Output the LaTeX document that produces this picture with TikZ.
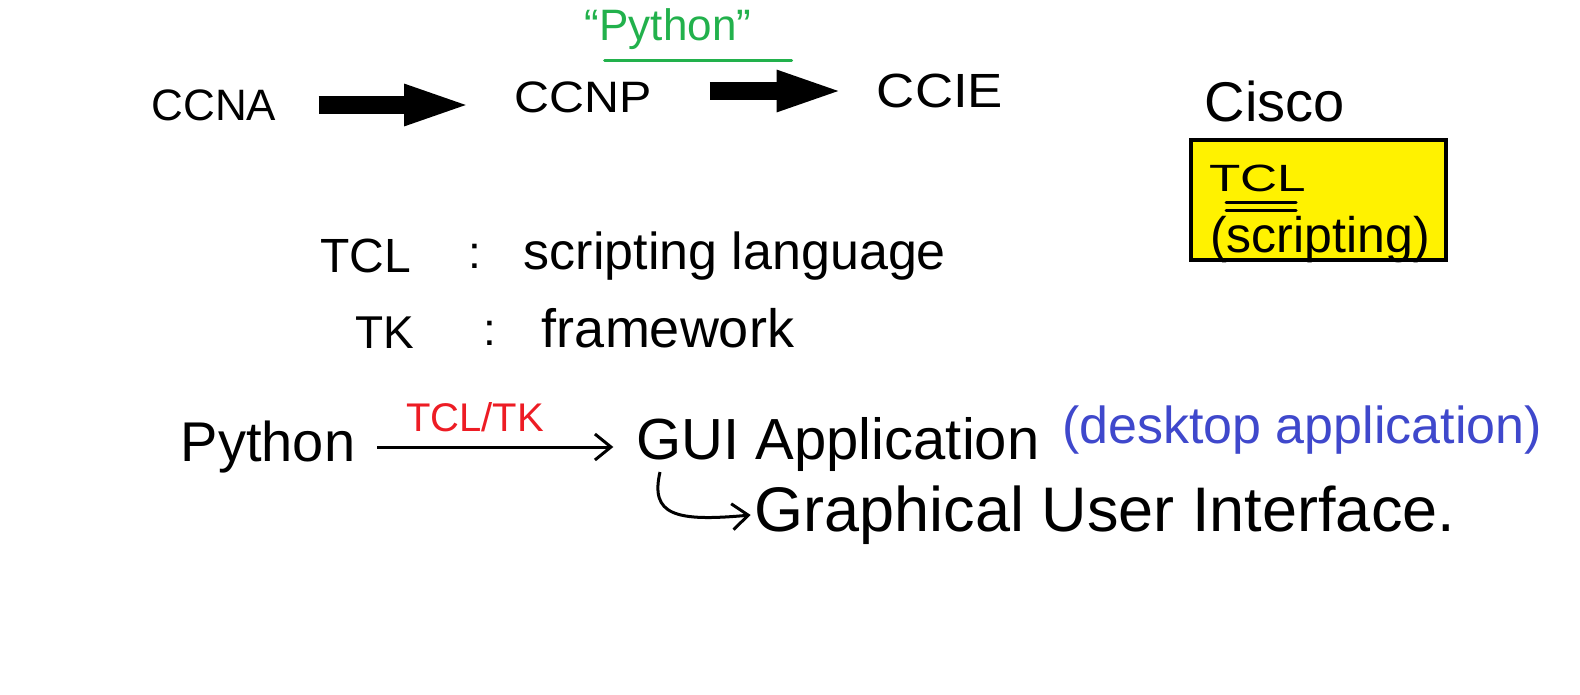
\documentclass[tikz,border=0pt]{standalone}
\usepackage{fontspec}
\setmainfont{Liberation Sans}
\usetikzlibrary{arrows.meta}
\definecolor{pgreen}{RGB}{34,177,76}
\definecolor{pred}{RGB}{237,28,36}
\definecolor{pblue}{RGB}{63,72,204}
\definecolor{pyellow}{RGB}{255,242,0}
\newcommand{\fsz}[1]{\fontsize{#1}{#1}\selectfont}
\begin{document}
\begin{tikzpicture}[x=1pt,y=-1pt,
 txt/.style={inner sep=0pt, anchor=center},
 bigarrow/.style={line width=18pt, -{Triangle[length=70pt,width=36pt]}},
 thinarrow/.style={line width=3pt, -{Straight Barb[length=16pt,width=26pt,line width=3pt]}},
 uline/.style={line width=3pt, line cap=round},
]
\useasboundingbox (0,0) rectangle (1580,695);
\fill[white] (0,0) rectangle (1580,695);

% top row
\node[txt, font=\fsz{44}] (ccna) at (214,105) {CCNA};
\node[txt, font=\fsz{44}] (ccnp) at (583,97) {\scalebox{1.1}[1]{CCNP}};
\node[txt, font=\fsz{48}] (ccie) at (940,91) {\scalebox{1.1}[1]{CCIE}};
\node[txt, font=\fsz{56}] (cisco) at (1275,101) {Cisco};
\node[txt, font=\fsz{44}, text=pgreen] (pyq) at (668,29) {“Python”};
\draw[uline, pgreen] (pyq.south west) ++(20,11) -- ++(187,0);

\draw[bigarrow] ([xshift=42pt]ccna.east) -- ([xshift=-40pt]ccna.east -| ccnp.west);
\draw[bigarrow] ([xshift=58pt]ccnp.east |- ccie.east) -- ([xshift=-30pt]ccie.west);

% yellow box
\node[draw, line width=4pt, fill=pyellow, minimum width=255pt, minimum height=120pt] (box) at (1318,200) {};
\node[txt, font=\fsz{38}] (btcl) at (1258,178) {\scalebox{1.35}[1]{TCL}};
\draw[uline] (1226,203) -- (1296,203);
\draw[uline] (1226,211) -- (1296,211);
\node[txt, font=\fsz{50}] (bscr) at (1320,240) {(scripting)};

% TCL / TK lines
\node[txt, font=\fsz{48}] (tcl) at (366,256) {TCL};
\node[txt, font=\fsz{46}] (c1) at (475,256) {:};
\node[txt, font=\fsz{52}] (scr) at (735,256) {scripting language};
\node[txt, font=\fsz{46}] (tk) at (385,333) {TK};
\node[txt, font=\fsz{46}] (c2) at (490,333) {:};
\node[txt, font=\fsz{54}] (fw) at (668,328) {framework};

% Python line
\node[txt, font=\fsz{56}] (py) at (268,447) {Python};
\node[txt, font=\fsz{40}, text=pred] (tcltk) at (475,417) {TCL/TK};
\node[txt, font=\fsz{58}] (gui) at (838,445) {GUI Application};
\node[txt, font=\fsz{52}, text=pblue] (desk) at (1302,430) {(desktop application)};
\draw[thinarrow] ([xshift=22pt]py.east) -- ([xshift=-23pt]py.east -| gui.west);

\node[txt, font=\fsz{63}] (gui2) at (1105,515) {Graphical User Interface.};
\coordinate (hookstart) at (660,472);
\draw[thinarrow] (hookstart) .. controls (650,515) and (675,522) .. ([xshift=-4pt]gui2.west);
\end{tikzpicture}
\end{document}
